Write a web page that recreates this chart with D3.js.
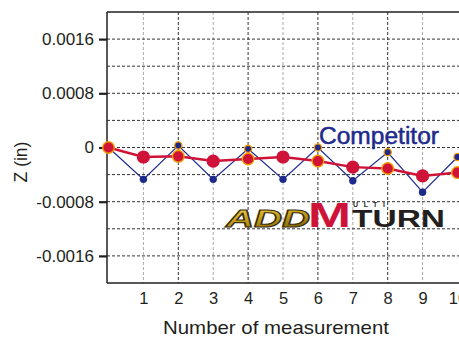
<!DOCTYPE html>
<html>
<head>
<meta charset="utf-8">
<script src="https://cdn.jsdelivr.net/npm/d3@7"></script>
<style>
  html, body { margin: 0; padding: 0; background: #fff; }
  svg { display: block; }
  text { font-family: "Liberation Sans", Arial, sans-serif; fill: #231f20; }
</style>
</head>
<body>
<svg id="chart" width="459" height="338"></svg>
<script>
// Measurement index (0 = reference position)
const measurements = [0, 1, 2, 3, 4, 5, 6, 7, 8, 9, 10];
// Z deviation, inches
const competitorZ = [0, -0.00047, 0.00003, -0.00047, -0.00002, -0.00047, 0.0, -0.00049, -0.00007, -0.00066, -0.00014];
const addMultiturnZ = [0, -0.00014, -0.00013, -0.0002, -0.00017, -0.00014, -0.0002, -0.00029, -0.00031, -0.00042, -0.00037];
const yTickValues = [-0.0016, -0.0008, 0, 0.0008, 0.0016];
const yTickLabels = ["-0.0016", "-0.0008", "0", "0.0008", "0.0016"];
const yGridValues = [-0.0016, -0.0012, -0.0008, -0.0004, 0, 0.0004, 0.0008, 0.0012, 0.0016];
const xTickValues = [1, 2, 3, 4, 5, 6, 7, 8, 9, 10];

const svg = d3.select("#chart");
const frame = { left: 107, top: 12, right: 459, bottom: 283 };

const x = d3.scaleLinear().domain([0, 10]).range([108.5, 457.5]);
const y = d3.scaleLinear().domain([-0.002, 0.002]).range([frame.bottom, frame.top]);

const navy = "#1d2a8c";
const red = "#cf1237";
const orange = "#f39a00";
const ink = "#231f20";

// Grid: dashed verticals (grey at odd, black at even), black dashed horizontals
const grid = svg.append("g");
grid.selectAll("line.v").data(xTickValues.filter(d => d < 10)).join("line")
  .attr("x1", d => x(d)).attr("x2", d => x(d))
  .attr("y1", frame.top).attr("y2", frame.bottom)
  .attr("stroke", d => d % 2 === 0 ? "#333" : "#aaa")
  .attr("stroke-width", 1)
  .attr("stroke-dasharray", "3,2");
grid.selectAll("line.h").data(yGridValues).join("line")
  .attr("x1", frame.left).attr("x2", frame.right)
  .attr("y1", d => y(d)).attr("y2", d => y(d))
  .attr("stroke", "#333")
  .attr("stroke-width", 1)
  .attr("stroke-dasharray", "3,2");

// Frame lines
svg.append("line").attr("x1", frame.left).attr("x2", frame.right)
  .attr("y1", frame.top).attr("y2", frame.top).attr("stroke", ink).attr("stroke-width", 1.5);
svg.append("line").attr("x1", frame.left).attr("x2", frame.right)
  .attr("y1", frame.bottom).attr("y2", frame.bottom).attr("stroke", ink).attr("stroke-width", 1.5);

// Y axis
const yAxis = d3.axisLeft(y).tickValues(yTickValues)
  .tickFormat((d, i) => yTickLabels[i]).tickSize(8).tickPadding(5);
const gy = svg.append("g").attr("transform", `translate(${frame.left},0)`).call(yAxis);
gy.select(".domain").attr("d", `M0,${frame.top}V${frame.bottom}`).attr("stroke", ink).attr("stroke-width", 1.5);
gy.selectAll(".tick line").attr("stroke", ink).attr("stroke-width", 2.2);
gy.selectAll(".tick text").attr("font-size", 17).attr("fill", ink)
  .attr("font-family", "Liberation Sans, Arial, sans-serif");

// X axis (labels only)
const xAxis = d3.axisBottom(x).tickValues(xTickValues).tickSize(0).tickPadding(9);
const gx = svg.append("g").attr("transform", `translate(0,${frame.bottom})`).call(xAxis);
gx.select(".domain").remove();
gx.selectAll(".tick text").attr("font-size", 16.5).attr("fill", ink)
  .attr("font-family", "Liberation Sans, Arial, sans-serif");

// Axis titles
svg.append("text").attr("x", 276).attr("y", 334).attr("text-anchor", "middle")
  .attr("font-size", 19).attr("textLength", 226).attr("lengthAdjust", "spacingAndGlyphs")
  .text("Number of measurement");
svg.append("text").attr("transform", "translate(27,162) rotate(-90)")
  .attr("text-anchor", "middle").attr("font-size", 17.5)
  .text("Z (in)");

// Series lines
const line = d3.line().x((d, i) => x(measurements[i])).y(d => y(d));
svg.append("path").datum(competitorZ).attr("d", line)
  .attr("fill", "none").attr("stroke", navy).attr("stroke-width", 1.2);
svg.append("path").datum(addMultiturnZ).attr("d", line)
  .attr("fill", "none").attr("stroke", red).attr("stroke-width", 2.4);

// Markers: even-numbered measurements carry an orange rim
svg.append("g").selectAll("circle").data(addMultiturnZ).join("circle")
  .attr("cx", (d, i) => x(measurements[i])).attr("cy", d => y(d))
  .attr("r", (d, i) => i % 2 === 0 ? 5.8 : 6.6)
  .attr("fill", red)
  .attr("stroke", (d, i) => i % 2 === 0 ? orange : "none")
  .attr("stroke-width", 1.4);
svg.append("g").selectAll("circle").data(competitorZ).join("circle")
  .filter((d, i) => i > 0)
  .attr("cx", (d, i) => x(measurements[i + 1])).attr("cy", d => y(d))
  .attr("r", (d, i) => (i + 1) % 2 === 0 ? 3.6 : 3.7)
  .attr("fill", navy)
  .attr("stroke", (d, i) => (i + 1) % 2 === 0 ? orange : "none")
  .attr("stroke-width", 1.3);

// Series label
svg.append("text").attr("x", 319).attr("y", 144)
  .attr("font-size", 23).attr("textLength", 120).attr("lengthAdjust", "spacingAndGlyphs")
  .style("fill", navy).attr("stroke", navy).attr("stroke-width", 0.5)
  .text("Competitor");

// ADDMULTITURN wordmark
const defs = svg.append("defs");
const gold = defs.append("linearGradient").attr("id", "gold")
  .attr("x1", "0").attr("y1", "0").attr("x2", "0.4").attr("y2", "1");
gold.append("stop").attr("offset", "0%").attr("stop-color", "#f7e27a");
gold.append("stop").attr("offset", "45%").attr("stop-color", "#d9b020");
gold.append("stop").attr("offset", "100%").attr("stop-color", "#8a6a08");

const logo = svg.append("g");
logo.append("text").attr("x", 226).attr("y", 226.5)
  .attr("font-size", 24).attr("font-weight", "bold").attr("font-style", "italic")
  .attr("textLength", 84).attr("lengthAdjust", "spacingAndGlyphs")
  .style("fill", "url(#gold)").attr("stroke", "#3a2f14").attr("stroke-width", 1.1)
  .attr("font-family", "DejaVu Sans, sans-serif")
  .text("ADD");
logo.append("text").attr("x", 308).attr("y", 226.8)
  .attr("font-size", 35).attr("font-weight", "bold")
  .attr("textLength", 43).attr("lengthAdjust", "spacingAndGlyphs")
  .style("fill", red)
  .attr("font-family", "DejaVu Sans, sans-serif")
  .text("M");
logo.append("text").attr("x", 353).attr("y", 206.5)
  .attr("font-size", 7).attr("font-weight", "bold")
  .attr("textLength", 32).attr("lengthAdjust", "spacing")
  .style("fill", ink)
  .attr("font-family", "DejaVu Sans, sans-serif")
  .text("ULTI");
logo.append("text").attr("x", 352).attr("y", 226.8)
  .attr("font-size", 24).attr("font-weight", "bold")
  .attr("textLength", 93).attr("lengthAdjust", "spacingAndGlyphs")
  .style("fill", ink)
  .attr("font-family", "DejaVu Sans, sans-serif")
  .text("TURN");
</script>
</body>
</html>
